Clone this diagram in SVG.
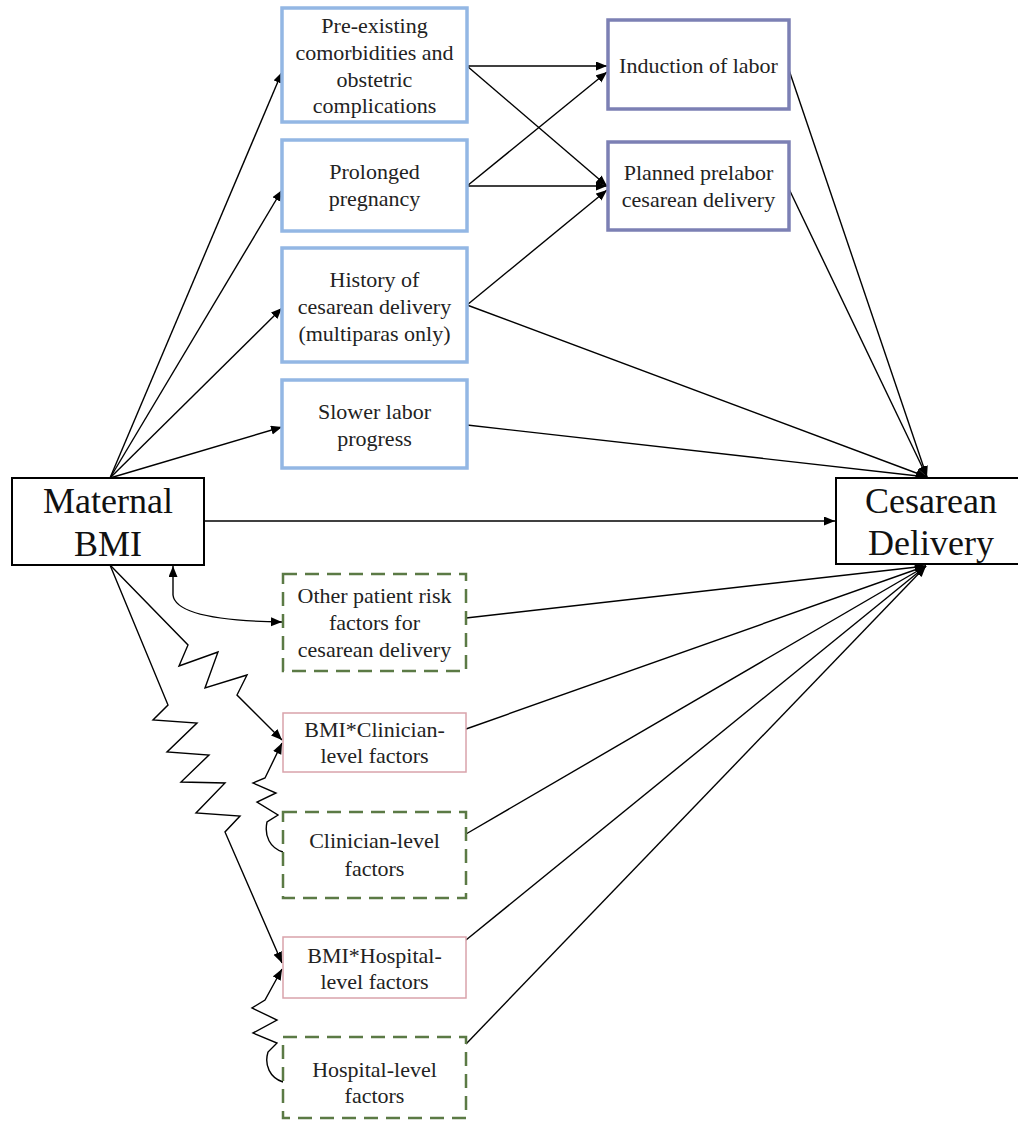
<svg xmlns="http://www.w3.org/2000/svg" width="1018" height="1124" viewBox="0 0 1018 1124">
<defs>
<marker id="ah" markerUnits="userSpaceOnUse" markerWidth="12" markerHeight="10" refX="11" refY="4.5" orient="auto-start-reverse">
<path d="M0,0 L11,4.5 L0,9 z" fill="#000"/>
</marker>
</defs>
<style>
text{font-family:"Liberation Serif","Times New Roman",serif;fill:#222;text-anchor:middle}
.s{font-size:22px}
.b{font-size:36px;fill:#111}
.main{fill:#fff;stroke:#000;stroke-width:2}
.blue{fill:#fff;stroke:#93b7e4;stroke-width:3.5}
.purp{fill:#fff;stroke:#7c80b4;stroke-width:3.5}
.green{fill:#fff;stroke:#5b7a45;stroke-width:2.5;stroke-dasharray:14 8}
.pink{fill:#fff;stroke:#d9a3ab;stroke-width:1.5}
.c{fill:none;stroke:#000;stroke-width:1.4}
.a{marker-end:url(#ah)}
</style>
<g id="connectors">
<path class="c a" d="M110,478 L282,72"/>
<path class="c a" d="M110,478 L282,190"/>
<path class="c a" d="M110,478 L282,308"/>
<path class="c a" d="M110,478 L282,427"/>
<path class="c a" d="M204,521 L835,521"/>
<path class="c a" d="M467,66 L607,66"/>
<path class="c a" d="M467,66 L607,186"/>
<path class="c a" d="M467,186 L607,72"/>
<path class="c a" d="M467,186 L607,186"/>
<path class="c a" d="M467,305 L607,190"/>
<path class="c a" d="M467,305 L927,477"/>
<path class="c a" d="M467,425 L927,477"/>
<path class="c a" d="M789,70 L927,477"/>
<path class="c a" d="M789,189 L927,477"/>
<path class="c a" d="M466,618 L926,566"/>
<path class="c a" d="M466,729 L926,566"/>
<path class="c a" d="M466,834 L926,566"/>
<path class="c a" d="M466,940 L926,566"/>
<path class="c a" d="M466,1044 L926,566"/>
<path class="c a" style="marker-start:url(#ah)" d="M173,566 L173,595 C175,613 215,621 282,622"/>
<path class="c a" d="M110,565 L188,645 L179,666 L218,652 L205,688 L247,675 L237,695 L282,740"/>
<path class="c a" d="M110,565 L168,705 L153,720 L197,723 L167,752 L209,755 L181,782 L225,783 L196,813 L240,816 L225,832 L282,963"/>
<path class="c a" d="M283,852 C270,848 264,836 267,822 L278,815 L257,802 L276,793 L253,783 L265,778 L282,743"/>
<path class="c a" d="M283,1082 C270,1078 264,1065 268,1052 L277,1043 L253,1033 L277,1020 L252,1008 L265,1000 L282,969"/>
</g>
<g id="maternal-bmi">
<rect class="main" x="12" y="478" width="192" height="87"/>
<text class="b" x="108" y="513">Maternal</text>
<text class="b" x="108" y="556">BMI</text>
</g>
<g id="cesarean-delivery">
<rect class="main" x="836" y="478" width="192" height="86"/>
<text class="b" x="931" y="513">Cesarean</text>
<text class="b" x="931" y="555">Delivery</text>
</g>
<g id="pre-existing">
<rect class="blue" x="282" y="8" width="185" height="114"/>
<text class="s" x="374.5" y="33">Pre-existing</text>
<text class="s" x="374.5" y="60">comorbidities and</text>
<text class="s" x="374.5" y="87">obstetric</text>
<text class="s" x="374.5" y="113">complications</text>
</g>
<g id="prolonged">
<rect class="blue" x="282" y="140" width="185" height="91"/>
<text class="s" x="374.5" y="179">Prolonged</text>
<text class="s" x="374.5" y="206">pregnancy</text>
</g>
<g id="history">
<rect class="blue" x="282" y="248" width="185" height="114"/>
<text class="s" x="374.5" y="287">History of</text>
<text class="s" x="374.5" y="314">cesarean delivery</text>
<text class="s" x="374.5" y="341">(multiparas only)</text>
</g>
<g id="slower">
<rect class="blue" x="282" y="380" width="185" height="88"/>
<text class="s" x="374.5" y="419">Slower labor</text>
<text class="s" x="374.5" y="446">progress</text>
</g>
<g id="induction">
<rect class="purp" x="608" y="20" width="181" height="89"/>
<text class="s" x="698.5" y="73">Induction of labor</text>
</g>
<g id="planned">
<rect class="purp" x="608" y="142" width="181" height="88"/>
<text class="s" x="698.5" y="180">Planned prelabor</text>
<text class="s" x="698.5" y="207">cesarean delivery</text>
</g>
<g id="other-risk">
<rect class="green" x="283" y="574" width="183" height="97"/>
<text class="s" x="374.5" y="603">Other patient risk</text>
<text class="s" x="374.5" y="630">factors for</text>
<text class="s" x="374.5" y="657">cesarean delivery</text>
</g>
<g id="bmi-clinician">
<rect class="pink" x="283" y="713" width="183" height="59"/>
<text class="s" x="374.5" y="737">BMI*Clinician-</text>
<text class="s" x="374.5" y="763">level factors</text>
</g>
<g id="clinician">
<rect class="green" x="283" y="812" width="183" height="86"/>
<text class="s" x="374.5" y="848">Clinician-level</text>
<text class="s" x="374.5" y="876">factors</text>
</g>
<g id="bmi-hospital">
<rect class="pink" x="283" y="937" width="183" height="61"/>
<text class="s" x="374.5" y="963">BMI*Hospital-</text>
<text class="s" x="374.5" y="989">level factors</text>
</g>
<g id="hospital">
<rect class="green" x="283" y="1037" width="183" height="81"/>
<text class="s" x="374.5" y="1077">Hospital-level</text>
<text class="s" x="374.5" y="1103">factors</text>
</g>
</svg>
